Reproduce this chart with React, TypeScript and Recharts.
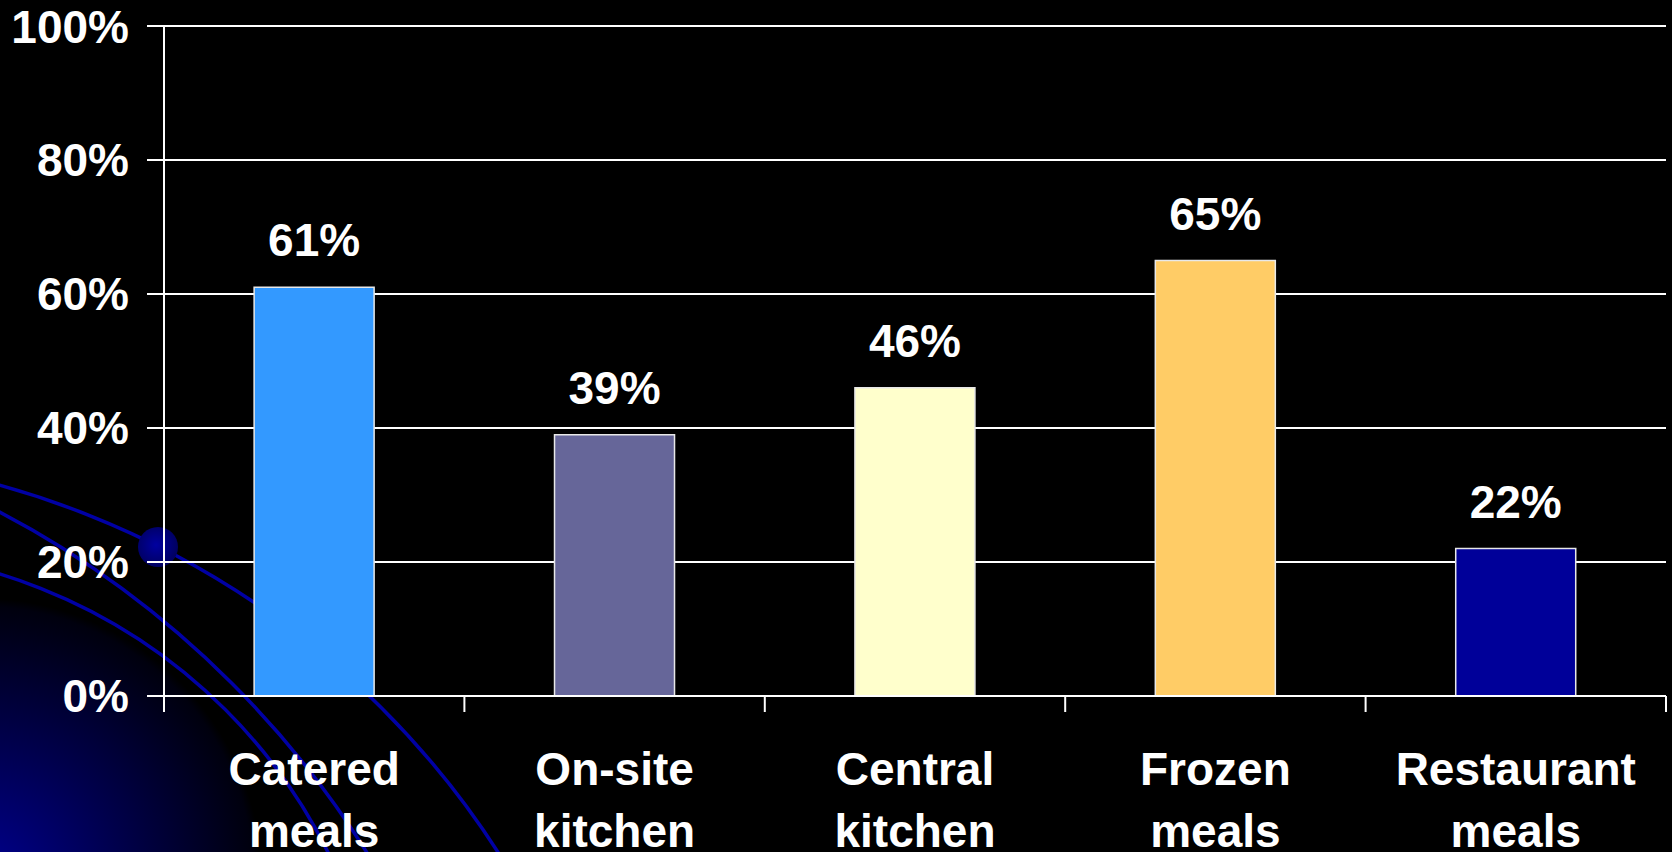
import React from 'react';
import { BarChart, Bar, XAxis, YAxis, CartesianGrid, Cell, LabelList } from 'recharts';

const categories = ['Catered meals', 'On-site kitchen', 'Central kitchen', 'Frozen meals', 'Restaurant meals'];
const values = [61, 39, 46, 65, 22];
const barColors = ['#3399FF', '#666699', '#FFFFCC', '#FFCC66', '#000099'];
const yTicks = [0, 20, 40, 60, 80, 100];

const data = categories.map((name, i) => ({ name, value: values[i] }));

const FONT = '"Liberation Sans", Arial, Helvetica, sans-serif';

const XTick = (props: any) => {
  const { x, y, payload, width, visibleTicksCount, index } = props;
  const n = visibleTicksCount || categories.length;
  const w = typeof width === 'number' && width > 0 ? width : 1502;
  const band = w / n;
  const axisY = y - 16;
  const words = String(payload.value).split(' ');
  const txt = {
    textAnchor: 'middle' as const,
    fill: '#ffffff',
    fontFamily: FONT,
    fontWeight: 'bold' as const,
    fontSize: 46,
  };
  return (
    <g>
      <line x1={x - band / 2} x2={x - band / 2} y1={axisY} y2={y} stroke="#ffffff" strokeWidth={2} />
      {index === n - 1 && (
        <line x1={x + band / 2} x2={x + band / 2} y1={axisY} y2={y} stroke="#ffffff" strokeWidth={2} />
      )}
      <text x={x} y={y + 73} {...txt}>{words[0]}</text>
      <text x={x} y={y + 135} {...txt}>{words.slice(1).join(' ')}</text>
    </g>
  );
};

const renderValueLabel = (props: any) => {
  const { x, y, width, value } = props;
  return (
    <text
      x={Number(x) + Number(width) / 2}
      y={Number(y) - 31}
      textAnchor="middle"
      fill="#ffffff"
      fontFamily={FONT}
      fontWeight="bold"
      fontSize={46}
    >
      {`${value}%`}
    </text>
  );
};

const Decoration = () => (
  <svg width={1672} height={852} style={{ position: 'absolute', left: 0, top: 0 }}>
    <defs>
      <radialGradient id="cornerGlow" cx="-20" cy="880" r="282" gradientUnits="userSpaceOnUse">
        <stop offset="0" stopColor="#000090" />
        <stop offset="0.5" stopColor="#00004c" />
        <stop offset="0.97" stopColor="#00000e" />
        <stop offset="1" stopColor="#000000" />
      </radialGradient>
      <radialGradient id="dotGrad" cx="0.45" cy="0.45" r="0.6">
        <stop offset="0" stopColor="#0000a0" />
        <stop offset="1" stopColor="#00005a" />
      </radialGradient>
    </defs>
    <rect x={0} y={0} width={1672} height={852} fill="#000000" />
    <circle cx={-20} cy={880} r={282} fill="url(#cornerGlow)" />
    <circle cx={-231} cy={1320} r={866} fill="none" stroke="#0000a4" strokeWidth={3.5} />
    <circle cx={-447} cy={1362} r={960} fill="none" stroke="#0000a4" strokeWidth={3.5} />
    <circle cx={-160} cy={1095} r={545} fill="none" stroke="#0000a4" strokeWidth={3.5} />
    <circle cx={158} cy={547} r={20} fill="url(#dotGrad)" />
  </svg>
);

export default function App() {
  return (
    <div style={{ position: 'absolute', left: 0, top: 0, width: 1672, height: 852, overflow: 'hidden', background: '#000' }}>
      <Decoration />
      <div style={{ position: 'absolute', left: 0, top: 0 }}>
        <BarChart
          width={1672}
          height={852}
          data={data}
          margin={{ top: 26, right: 6, bottom: 0, left: 0 }}
          barCategoryGap="30%"
        >
          <CartesianGrid horizontal={true} vertical={false} stroke="#ffffff" strokeWidth={2} />
          <XAxis
            dataKey="name"
            type="category"
            height={156}
            interval={0}
            tickLine={false}
            tickSize={16}
            tickMargin={0}
            axisLine={{ stroke: '#ffffff', strokeWidth: 2 }}
            tick={<XTick />}
          />
          <YAxis
            domain={[0, 100]}
            ticks={yTicks}
            width={164}
            tickSize={17}
            tickMargin={18}
            tickFormatter={(v: number) => `${v}%`}
            tickLine={{ stroke: '#ffffff', strokeWidth: 2 }}
            axisLine={{ stroke: '#ffffff', strokeWidth: 2 }}
            tick={{ fill: '#ffffff', fontSize: 46, fontWeight: 'bold', fontFamily: FONT }}
          />
          <YAxis
            yAxisId="r"
            orientation="right"
            width={0}
            domain={[0, 100]}
            tick={false}
            tickLine={false}
            axisLine={{ stroke: '#ffffff', strokeWidth: 2 }}
          />
          <Bar dataKey="value" isAnimationActive={false} stroke="#e8e8e8" strokeWidth={1.5}>
            {data.map((d, i) => (
              <Cell key={d.name} fill={barColors[i]} />
            ))}
            <LabelList dataKey="value" content={renderValueLabel} />
          </Bar>
        </BarChart>
      </div>
    </div>
  );
}
